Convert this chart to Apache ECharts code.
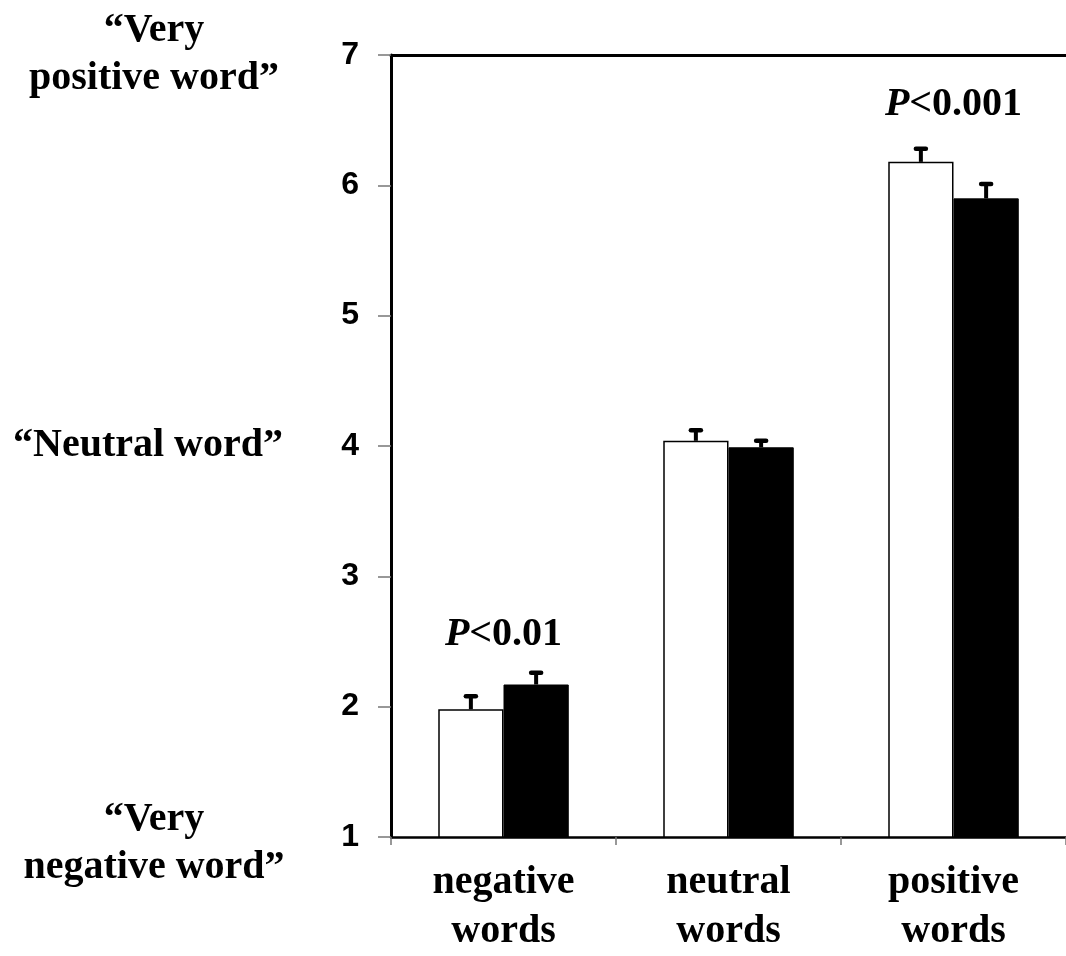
<!DOCTYPE html>
<html>
<head>
<meta charset="utf-8">
<script src="https://cdn.jsdelivr.net/npm/echarts@6/dist/echarts.min.js"></script>
<style>
html,body{margin:0;padding:0;background:#fff;overflow:hidden;}
#chart{width:1066px;height:956px;}
</style>
</head>
<body>
<div id="chart"></div>
<script>
// ---- data ----
const categories = ['negative\nwords', 'neutral\nwords', 'positive\nwords'];
const whiteValues = [1.98, 4.04, 6.18];
const whiteErrors = [0.10, 0.08, 0.10];
const blackValues = [2.17, 3.99, 5.90];
const blackErrors = [0.09, 0.05, 0.11];
const yTicks = [1, 2, 3, 4, 5, 6, 7];
const annotations = [
  { category: 0, y: 2.55, text: '<0.01' },
  { category: 2, y: 6.62, text: '<0.001' }
];
const sideLabels = [
  { text: '\u201CVery\npositive word\u201D', value: 7.0 },
  { text: '\u201CNeutral word\u201D', value: 4.0 },
  { text: '\u201CVery\nnegative word\u201D', value: 0.95 }
];

const serif = '"Liberation Serif", "Times New Roman", serif';
const sans = '"Liberation Sans", Arial, sans-serif';
const CAT_GAP = 0.42;

const chart = echarts.init(document.getElementById('chart'), null, { renderer: 'canvas', width: 1066, height: 956 });

const errData = [];
whiteValues.forEach((v, i) => errData.push([i, v, whiteErrors[i], 0]));
blackValues.forEach((v, i) => errData.push([i, v, blackErrors[i], 1]));

function renderErr(params, api) {
  const ci = api.value(0), v = api.value(1), e = api.value(2), s = api.value(3);
  const band = api.size([1, 0])[0];
  const barW = band * (1 - CAT_GAP) / 2;
  const base = api.coord([ci, v]);
  const topPt = api.coord([ci, v + e]);
  const x = base[0] + (s === 0 ? -0.5 : 0.5) * barW;
  return {
    type: 'group',
    children: [
      { type: 'line', shape: { x1: x, y1: base[1], x2: x, y2: topPt[1] },
        style: { stroke: '#000', lineWidth: 4 } },
      { type: 'line', shape: { x1: x - 5, y1: topPt[1], x2: x + 5, y2: topPt[1] },
        style: { stroke: '#000', lineWidth: 4.5, lineCap: 'round' } }
    ]
  };
}

const option = {
  backgroundColor: '#fff',
  animation: false,
  grid: { left: 391, top: 55, width: 681, height: 789, containLabel: false },
  xAxis: [{
    type: 'category',
    data: categories,
    position: 'bottom',
    axisLine: { lineStyle: { color: '#000', width: 2.5 } },
    axisTick: { show: true, length: 8, lineStyle: { color: '#777', width: 1.5 } },
    axisLabel: {
      margin: 21, color: '#000', fontFamily: serif, fontWeight: 'bold',
      fontSize: 40, lineHeight: 49
    },
    splitLine: { show: false }
  }, {
    type: 'category',
    data: categories,
    position: 'top',
    axisLine: { lineStyle: { color: '#000', width: 3 } },
    axisTick: { show: false },
    axisLabel: { show: false }
  }],
  yAxis: {
    type: 'value',
    min: yTicks[0], max: yTicks[yTicks.length - 1], interval: 1,
    axisLine: { show: true, lineStyle: { color: '#000', width: 3 } },
    axisTick: { show: true, length: 13, lineStyle: { color: '#777', width: 1.5 } },
    axisLabel: { margin: 32, color: '#000', fontFamily: sans, fontWeight: 'bold', fontSize: 32 },
    splitLine: { show: false }
  },
  series: [{
    type: 'bar',
    data: whiteValues,
    barGap: '0%',
    barCategoryGap: (CAT_GAP * 100) + '%',
    itemStyle: { color: '#fff', borderColor: '#000', borderWidth: 1.5 },
    z: 2
  }, {
    type: 'bar',
    data: blackValues,
    barGap: '0%',
    barCategoryGap: (CAT_GAP * 100) + '%',
    itemStyle: { color: '#000', borderColor: '#000', borderWidth: 1 },
    z: 2
  }, {
    type: 'custom',
    data: errData,
    renderItem: renderErr,
    z: 3,
    silent: true
  }, {
    type: 'scatter',
    symbolSize: 0,
    itemStyle: { opacity: 1 },
    data: annotations.map(a => [a.category, a.y, a.text]),
    label: {
      show: true,
      position: 'inside',
      color: '#000',
      opacity: 1,
      textBorderWidth: 0,
      formatter: p => '{i|P}{b|' + p.data[2] + '}',
      rich: {
        i: { fontFamily: serif, fontStyle: 'italic', fontWeight: 'bold', fontSize: 40, color: '#000' },
        b: { fontFamily: serif, fontWeight: 'bold', fontSize: 40, color: '#000' }
      }
    },
    silent: true,
    z: 4
  }]
};
chart.setOption(option);

// side labels positioned via the y scale
const graphics = sideLabels.map((s, i) => {
  const px = chart.convertToPixel({ yAxisIndex: 0 }, s.value);
  return {
    type: 'text',
    x: i === 1 ? 148 : 154,
    y: px,
    style: {
      text: s.text,
      font: 'bold 40px ' + serif,
      lineHeight: 48,
      fill: '#000',
      align: 'center',
      verticalAlign: 'middle'
    }
  };
});
chart.setOption({ graphic: graphics });
</script>
</body>
</html>
